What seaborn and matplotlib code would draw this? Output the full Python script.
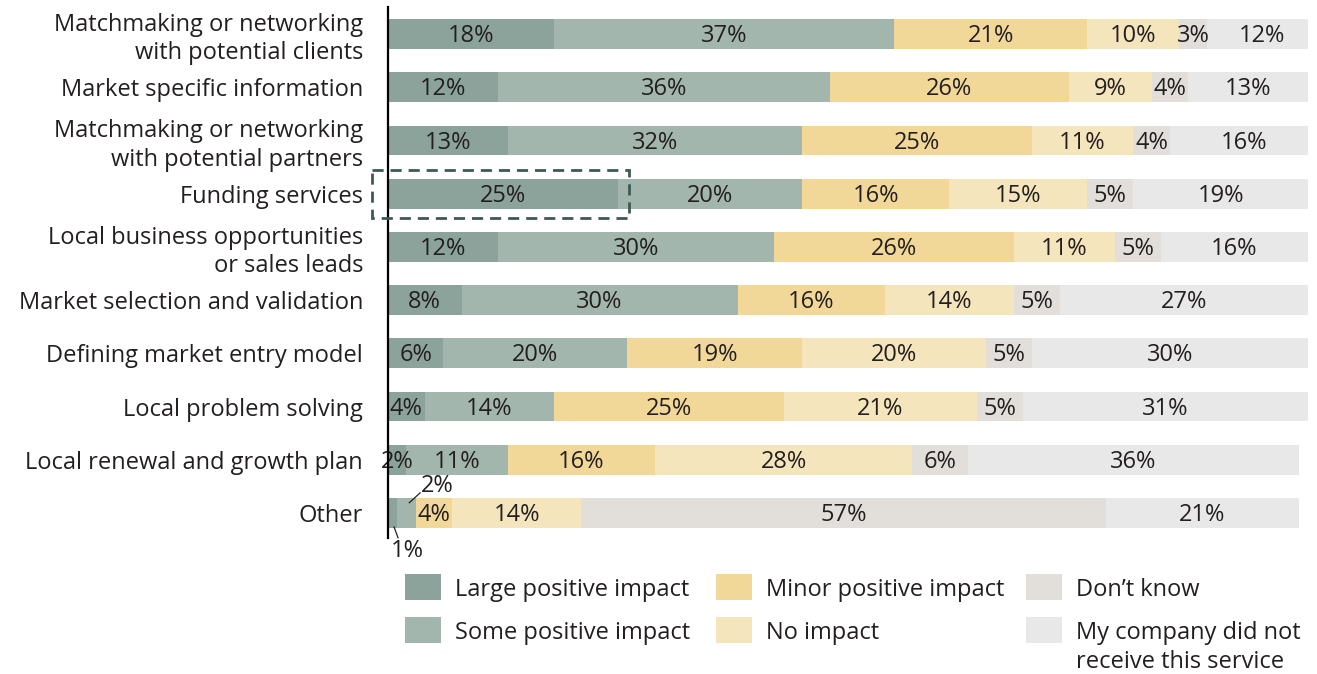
import numpy as np
import pandas as pd
import seaborn as sns
from matplotlib import pyplot as plt
from matplotlib.patches import Rectangle

categories = [
    "Matchmaking or networking\nwith potential clients",
    "Market specific information",
    "Matchmaking or networking\nwith potential partners",
    "Funding services",
    "Local business opportunities\nor sales leads",
    "Market selection and validation",
    "Defining market entry model",
    "Local problem solving",
    "Local renewal and growth plan",
    "Other",
]
large_positive = [18, 12, 13, 25, 12, 8, 6, 4, 2, 1]
some_positive = [37, 36, 32, 20, 30, 30, 20, 14, 11, 2]
minor_positive = [21, 26, 25, 16, 26, 16, 19, 25, 16, 4]
no_impact = [10, 9, 11, 15, 11, 14, 20, 21, 28, 14]
dont_know = [3, 4, 4, 5, 5, 5, 5, 5, 6, 57]
not_received = [12, 13, 16, 19, 16, 27, 30, 31, 36, 21]

series_names = [
    "Large positive impact",
    "Some positive impact",
    "Minor positive impact",
    "No impact",
    "Don\u2019t know",
    "My company did not\nreceive this service",
]
colors = ["#8ba39a", "#a2b6ad", "#f2d898", "#f5e5bc", "#e2deda", "#e8e8e8"]
txt = "#231f20"

sns.set_style("white")
plt.rcParams["font.family"] = ["Open Sans", "DejaVu Sans"]
FS = 17

df = pd.DataFrame({
    "category": categories,
    "large": large_positive,
    "some": some_positive,
    "minor": minor_positive,
    "none": no_impact,
    "dk": dont_know,
    "nr": not_received,
})
cols = ["large", "some", "minor", "none", "dk", "nr"]
cum = df[cols].cumsum(axis=1)
cum["category"] = df["category"]

W, H = 1317, 674
fig = plt.figure(figsize=(W / 100, H / 100), dpi=100)
ax = fig.add_axes([388 / W, (H - 538) / H, 920 / W, 531 / H])

# stacked bars: draw the cumulative totals from the longest down
for col, color in reversed(list(zip(cols, colors))):
    sns.barplot(data=cum, x=col, y="category", orient="y", color=color,
                saturation=1, width=0.56, linewidth=0, errorbar=None, ax=ax)

ax.set_xlim(0, 100)
ax.set_ylim(9.47, -0.507)
ax.set_xlabel("")
ax.set_ylabel("")
ax.set_xticks([])
ax.set_yticks(range(len(categories)))
ax.set_yticklabels(categories, fontsize=FS, color=txt, linespacing=1.25)
ax.tick_params(axis="y", length=0, pad=18)
for s in ["top", "right", "bottom"]:
    ax.spines[s].set_visible(False)
ax.spines["left"].set_color("black")
ax.spines["left"].set_linewidth(1.6)
ax.spines["left"].set_zorder(5)

last = len(df) - 1

# segment labels
for i in range(len(df)):
    for j, col in enumerate(cols):
        v = df[col].iloc[i]
        x = cum[col].iloc[i] - v / 2
        if i == last and j < 2:
            continue
        ax.text(x, i + 0.04, f"{v}%", ha="center", va="center",
                fontsize=FS, color=txt)

# tiny segments of "Other" get leader lines
x1 = cum["large"].iloc[last] - large_positive[last] / 2
ax.plot([x1 + 0.15, x1 + 0.6], [last + 0.26, last + 0.47], color=txt,
        lw=0.9, clip_on=False, zorder=6)
ax.text(x1 + 1.6, last + 0.72, f"{large_positive[last]}%", ha="center",
        va="center", fontsize=FS, color=txt, clip_on=False)
x2 = cum["some"].iloc[last] - some_positive[last] / 2
ax.plot([x2 + 0.3, x2 + 1.5], [last - 0.19, last - 0.38], color=txt,
        lw=0.9, clip_on=False, zorder=6)
ax.text(x2 + 3.4, last - 0.5, f"{some_positive[last]}%", ha="center",
        va="center", fontsize=FS, color=txt)

# dashed highlight on Funding services
fi = categories.index("Funding services")
ax.add_patch(Rectangle((-1.75, fi - 0.45), large_positive[fi] + 2.95, 0.9,
                       fill=False, edgecolor="#3d5856", lw=2.0,
                       linestyle=(0, (4, 2.5)), clip_on=False, zorder=6))

# legend
leg_cols = [405, 716, 1026]
leg_rows = [587, 630]
for k, (name, color) in enumerate(zip(series_names, colors)):
    cx = leg_cols[k // 2]
    cy = leg_rows[k % 2]
    fig.add_artist(Rectangle((cx / W, 1 - (cy + 13) / H), 36 / W, 26 / H,
                             transform=fig.transFigure, facecolor=color,
                             edgecolor="none"))
    lines = name.split("\n")
    for n, line in enumerate(lines):
        fig.text((cx + 50) / W, 1 - (cy + 3 + 29 * n) / H, line, ha="left",
                 va="center", fontsize=FS, color=txt)

fig.savefig("out.png", dpi=100)
